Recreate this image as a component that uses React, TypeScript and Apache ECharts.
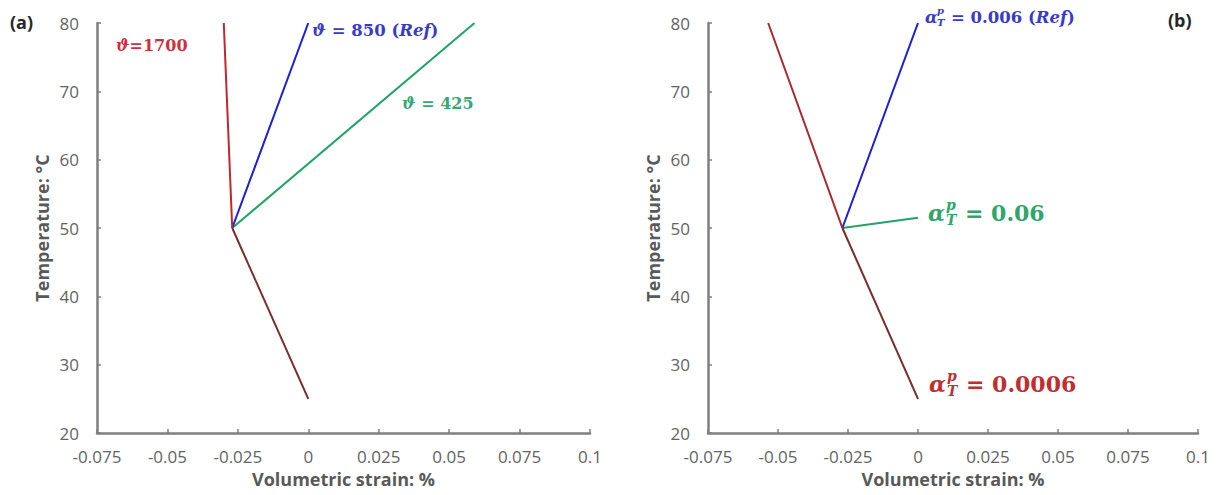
import React, { useEffect, useRef } from "react";
import * as echarts from "echarts";

// ---- data ----
const tempPts = [25, 50, 80];
// panel (a): thermal expansion parameter ϑ
const strainA1700 = [0, -0.027, -0.030];
const strainA850 = [0, -0.027, 0];
const strainA425 = [0, -0.027, 0.059];
// panel (b): α_T^p
const strainB0006 = [0, -0.027, -0.0535];
const strainB006 = [0, -0.027, 0];
const strainB06 = [0, -0.027, 0];
const tempB06 = [25, 50, 51.5];

const xTicks = { min: -0.075, max: 0.1, interval: 0.025 };
const yTicks = { min: 20, max: 80, interval: 10 };

const RED = "#c0282e";
const BLUE = "#1c1cdc";
const GREEN = "#22a366";
const BROWN = "#7a2c2c";
const UI_FONT = "Open Sans";

function pts(xs: number[], ys: number[]) {
  return xs.map((x, i) => [x, ys[i]]);
}

function lineSeries(xi: number, data: number[][], color: string, z = 2) {
  return {
    type: "line",
    xAxisIndex: xi,
    yAxisIndex: xi,
    data,
    symbol: "none",
    z,
    lineStyle: { color, width: 2 },
  };
}

function axisX(gridIndex: number) {
  return {
    type: "value",
    gridIndex,
    ...xTicks,
    name: "Volumetric strain: %",
    nameLocation: "middle",
    nameGap: 29,
    nameTextStyle: { fontSize: 18, fontWeight: "bold", color: "#595959", fontFamily: UI_FONT },
    axisLine: { show: true, onZero: false, lineStyle: { color: "#7f7f7f", width: 2.5 } },
    axisTick: { show: true, inside: true, length: 4, lineStyle: { color: "#7f7f7f", width: 1.5 } },
    splitLine: { show: false },
    axisLabel: {
      color: "#636363",
      fontSize: 17,
      fontFamily: UI_FONT,
      margin: 15,
      formatter: (v: number) => String(Number(v.toFixed(3))),
    },
  };
}

function axisY(gridIndex: number) {
  return {
    type: "value",
    gridIndex,
    ...yTicks,
    name: "Temperature: °C",
    nameLocation: "middle",
    nameGap: 46,
    nameTextStyle: { fontSize: 18, fontWeight: "bold", color: "#595959", fontFamily: UI_FONT },
    axisLine: { show: true, onZero: false, lineStyle: { color: "#7f7f7f", width: 2.5 } },
    axisTick: { show: true, inside: true, length: 4, lineStyle: { color: "#7f7f7f", width: 1.5 } },
    splitLine: { show: false },
    axisLabel: { color: "#636363", fontSize: 17, fontFamily: UI_FONT, margin: 18 },
  };
}

const MF = "DejaVu Serif";

function richText(x: number, y: number, text: string, rich: any) {
  return {
    type: "text",
    x,
    y,
    z: 10,
    style: { text, rich, align: "left", verticalAlign: "middle" },
  };
}

function mathStyle(fs: number, color: string, italic: boolean) {
  return { fontSize: fs, fontFamily: MF, fontWeight: "bold", fontStyle: italic ? "italic" : "normal", fill: color };
}

function alphaLabel(x: number, y: number, fs: number, color: string, supDx: number, eqDx: number, value: string, ref: boolean) {
  const sfs = Math.round(fs * 0.62);
  const rich: any = {
    n: mathStyle(fs, color, false),
    i: mathStyle(fs, color, true),
  };
  return {
    type: "group",
    children: [
      { type: "text", x, y, z: 10, style: { text: "α", ...mathStyle(fs, color, true), align: "left", verticalAlign: "middle" } },
      { type: "text", x: x + supDx, y: y - fs * 0.38, z: 10, style: { text: "p", ...mathStyle(sfs, color, true), align: "left", verticalAlign: "middle" } },
      { type: "text", x: x + supDx, y: y + fs * 0.32, z: 10, style: { text: "T", ...mathStyle(sfs, color, true), align: "left", verticalAlign: "middle" } },
      richText(x + eqDx, y, ref ? `{n|= ${value} (}{i|Ref}{n|)}` : `{n|= ${value}}`, rich),
    ],
  };
}

function thetaLabel(x: number, y: number, fs: number, color: string, body: string, ref: boolean) {
  const text = ref ? `{i|ϑ}{n|${body} (}{i|Ref}{n|)}` : `{i|ϑ}{n|${body}}`;
  return richText(x, y, text, {
    i: mathStyle(fs, color, true),
    n: mathStyle(fs, color, false),
  });
}

function buildOption() {
  const lowerA = pts(strainA1700.slice(0, 2), tempPts.slice(0, 2));
  const lowerB = pts(strainB0006.slice(0, 2), tempPts.slice(0, 2));
  return {
    animation: false,
    backgroundColor: "#ffffff",
    grid: [
      { left: 97, top: 23, width: 493, height: 410, containLabel: false },
      { left: 708, top: 23, width: 490, height: 410, containLabel: false },
    ],
    xAxis: [axisX(0), axisX(1)],
    yAxis: [axisY(0), axisY(1)],
    series: [
      lineSeries(0, pts(strainA425.slice(1), tempPts.slice(1)), GREEN),
      lineSeries(0, pts(strainA850.slice(1), tempPts.slice(1)), BLUE),
      lineSeries(0, pts(strainA1700.slice(1), tempPts.slice(1)), RED),
      lineSeries(0, lowerA, BROWN, 3),
      lineSeries(1, pts(strainB06.slice(1), tempB06.slice(1)), GREEN),
      lineSeries(1, pts(strainB006.slice(1), tempPts.slice(1)), BLUE),
      lineSeries(1, pts(strainB0006.slice(1), tempPts.slice(1)), "#a8282c"),
      lineSeries(1, lowerB, BROWN, 3),
    ],
    graphic: [
      { type: "text", x: 10, y: 22, style: { text: "(a)", fontSize: 18, fontWeight: "bold", fontFamily: UI_FONT, fill: "#262626", align: "left", verticalAlign: "middle" } },
      { type: "text", x: 1168, y: 20, style: { text: "(b)", fontSize: 18, fontWeight: "bold", fontFamily: UI_FONT, fill: "#262626", align: "left", verticalAlign: "middle" } },
      thetaLabel(116, 45, 16, "#cc3040", "=1700", false),
      thetaLabel(312, 30, 16.5, "#3a3ac8", " = 850", true),
      thetaLabel(402, 103, 16, "#35a874", " = 425", false),
      alphaLabel(925, 17, 16.5, "#3a3ac8", 12, 26, "0.006", true),
      alphaLabel(928, 213, 22, "#2fa56a", 18, 37, "0.06", false),
      alphaLabel(929, 384, 22, "#c02f2f", 18, 37, "0.0006", false),
    ],
  };
}

export default function App() {
  const ref = useRef<HTMLDivElement>(null);
  useEffect(() => {
    const chart = echarts.init(ref.current as HTMLDivElement, null, { renderer: "svg" });
    chart.setOption(buildOption() as any);
    return () => chart.dispose();
  }, []);
  return (
    <div
      ref={ref}
      style={{ position: "fixed", left: 0, top: 0, width: 1226, height: 495, background: "#fff" }}
    />
  );
}
